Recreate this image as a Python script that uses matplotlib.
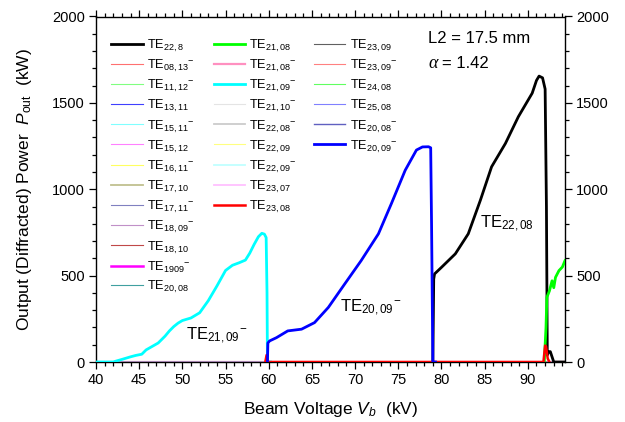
import matplotlib
matplotlib.use("Agg")
import matplotlib.pyplot as plt
from matplotlib.ticker import MultipleLocator

plt.rcParams['font.family'] = ['Liberation Sans', 'DejaVu Sans']
plt.rcParams['mathtext.fontset'] = 'custom'
plt.rcParams['mathtext.rm'] = 'Liberation Sans'
plt.rcParams['mathtext.it'] = 'Liberation Sans:italic'
plt.rcParams['mathtext.bf'] = 'Liberation Sans:bold'

# ---------------- data ----------------
# TE22,08 (black)
v_te2208 = [79.0, 79.1, 79.2, 80.0, 81.6, 83.1, 84.5, 85.8, 87.4, 88.9, 90.5, 91.0,
            91.3, 91.7, 92.0, 92.15, 92.25, 92.4, 92.6, 92.8, 93.0, 94.3]
p_te2208 = [0, 480, 510, 548, 626, 742, 936, 1130, 1265, 1420, 1556, 1630,
            1655, 1645, 1580, 900, 40, 60, 60, 30, 0, 0]

# TE21,09- (cyan)
v_te2109m = [40, 42, 42.3, 43, 44, 44.6, 45.3, 45.8, 46.5, 47.2, 48, 48.5, 49, 49.5,
             50, 51, 52, 53, 54, 55, 55.8, 56.6, 57.3, 57.8, 58.3, 58.8, 59.2, 59.5,
             59.7, 59.8, 59.85, 60.2]
p_te2109m = [0, 0, 5, 15, 30, 38, 45, 70, 90, 110, 150, 180, 205, 225,
             240, 255, 285, 355, 440, 530, 560, 575, 590, 630, 680, 725, 745, 740,
             720, 400, 0, 0]

# TE20,09- (blue)
v_te2009m = [59.85, 59.9, 60.1, 60.9, 62.2, 63.8, 65.3, 66.9, 68.8, 70.7, 72.7, 74.2,
             75.8, 77.1, 77.8, 78.5, 78.75, 78.85, 79.0, 79.3]
p_te2009m = [0, 110, 122, 141, 180, 190, 228, 316, 452, 587, 742, 917,
             1110, 1227, 1245, 1246, 1240, 800, 0, 0]

# TE21,08 (green)
v_te2108 = [91.9, 92.1, 92.2, 92.5, 92.8, 93.0, 93.2, 93.6, 94.0, 94.3]
p_te2108 = [0, 200, 374, 412, 470, 430, 490, 529, 550, 587]

# TE23,08 (red)
v_te2308 = [59.6, 59.75, 59.9, 91.8, 92.0, 92.1, 92.3, 92.5]
p_te2308 = [0, 40, 0, 0, 95, 90, 20, 0]

# modes that stay at zero over the whole scan
v_zero = [40, 94.3]
p_zero = [0, 0]

# legend columns (label, colour, linewidth)
col1 = [(r'TE$_{22,8}$', '#000000', 2.0),
        (r'TE$_{08,13}$$^{-}$', '#ff7070', 0.8),
        (r'TE$_{11,12}$$^{-}$', '#80ff80', 0.8),
        (r'TE$_{13,11}$', '#4040ff', 0.8),
        (r'TE$_{15,11}$$^{-}$', '#80ffff', 0.8),
        (r'TE$_{15,12}$', '#ff80ff', 0.8),
        (r'TE$_{16,11}$$^{-}$', '#ffff60', 0.8),
        (r'TE$_{17,10}$', '#c0c090', 1.3),
        (r'TE$_{17,11}$$^{-}$', '#8080c0', 0.8),
        (r'TE$_{18,09}$$^{-}$', '#c090c8', 0.8),
        (r'TE$_{18,10}$', '#c04848', 0.8),
        (r'TE$_{1909}$$^{-}$', '#ff00ff', 1.8),
        (r'TE$_{20,08}$', '#40a0a0', 0.8)]
col2 = [(r'TE$_{21,08}$', '#00ff00', 2.0),
        (r'TE$_{21,08}$$^{-}$', '#ff90c0', 1.6),
        (r'TE$_{21,09}$$^{-}$', '#00ffff', 2.0),
        (r'TE$_{21,10}$$^{-}$', '#e4e4e4', 0.8),
        (r'TE$_{22,08}$$^{-}$', '#cccccc', 1.3),
        (r'TE$_{22,09}$', '#ffff80', 0.8),
        (r'TE$_{22,09}$$^{-}$', '#c0ffff', 1.3),
        (r'TE$_{23,07}$', '#ffc0ff', 1.3),
        (r'TE$_{23,08}$', '#ff0000', 1.8)]
col3 = [(r'TE$_{23,09}$', '#606060', 0.8),
        (r'TE$_{23,09}$$^{-}$', '#ff8080', 0.8),
        (r'TE$_{24,08}$', '#60ff60', 0.8),
        (r'TE$_{25,08}$', '#8080ff', 0.8),
        (r'TE$_{20,08}$$^{-}$', '#6060c0', 1.0),
        (r'TE$_{20,09}$$^{-}$', '#0000ff', 2.0)]

curves = {
    r'TE$_{22,8}$': (v_te2208, p_te2208),
    r'TE$_{21,09}$$^{-}$': (v_te2109m, p_te2109m),
    r'TE$_{20,09}$$^{-}$': (v_te2009m, p_te2009m),
    r'TE$_{21,08}$': (v_te2108, p_te2108),
    r'TE$_{23,08}$': (v_te2308, p_te2308),
}

# ---------------- figure ----------------
fig = plt.figure(figsize=(6.25, 4.22), dpi=100)
ax = fig.add_axes([96/625, 1-362/422, 469/625, 345.5/422])

handles = {}
zero_order = [e for e in col1 + col2 + col3 if e[0] not in curves]
zero_order = [e for e in zero_order if e[0] != r'TE$_{08,13}$$^{-}$'] + \
             [e for e in zero_order if e[0] == r'TE$_{08,13}$$^{-}$']
for lab, c, lw in zero_order:
    h, = ax.plot(v_zero, p_zero, color=c, lw=lw, zorder=2)
    handles[lab] = h
for lab, c, lw in col1 + col2 + col3:
    if lab in curves:
        v, p = curves[lab]
        h, = ax.plot(v, p, color=c, lw=lw, zorder=3)
        handles[lab] = h

ax.set_xlim(40, 94.3)
ax.set_ylim(0, 2000)
ax.xaxis.set_major_locator(MultipleLocator(5))
ax.xaxis.set_minor_locator(MultipleLocator(1))
ax.yaxis.set_major_locator(MultipleLocator(500))
ax.yaxis.set_minor_locator(MultipleLocator(100))
ax.tick_params(which='both', direction='out', top=True, right=True,
               labelright=True, labelsize=10.5, width=0.9)
ax.tick_params(which='major', length=5, pad=3)
ax.tick_params(which='minor', length=3)
for s in ax.spines.values():
    s.set_linewidth(1.0)

ax.set_xlabel(r'Beam Voltage $V_b$  (kV)', fontsize=12.5, labelpad=9)
ax.set_ylabel(r'Output (Diffracted) Power  $P_{\rm out}$  (kW)', fontsize=12.5)
ax.yaxis.set_label_coords(-0.133, 0.5)

# legends
leg_kw = dict(loc='upper left', frameon=False, fontsize=9.2, handlelength=2.45,
              handletextpad=0.35, borderpad=0, borderaxespad=0,
              handleheight=1.0, labelspacing=0.32)
anchors = [(0.033, 0.938), (0.251, 0.938), (0.465, 0.938)]
cols = [col1, col2, col3]
for i, (col, anc) in enumerate(zip(cols, anchors)):
    leg = ax.legend([handles[e[0]] for e in col], [e[0] for e in col],
                    bbox_to_anchor=anc, **leg_kw)
    if i < len(cols) - 1:
        ax.add_artist(leg)

# annotations
ax.text(50.4, 127, r'TE$_{21,09}$$^{-}$', fontsize=12, va='baseline')
ax.text(68.3, 289, r'TE$_{20,09}$$^{-}$', fontsize=12, va='baseline')
ax.text(84.5, 774, r'TE$_{22,08}$', fontsize=12, va='baseline')
ax.text(0.708, 0.935, 'L2 = 17.5 mm', transform=ax.transAxes, fontsize=12, va='center')
ax.text(0.708, 0.865, 'α', transform=ax.transAxes, fontsize=13, va='center',
        family='Liberation Serif', style='italic')
ax.text(0.738, 0.865, '= 1.42', transform=ax.transAxes, fontsize=12, va='center')

fig.savefig('out.png', dpi=100)
